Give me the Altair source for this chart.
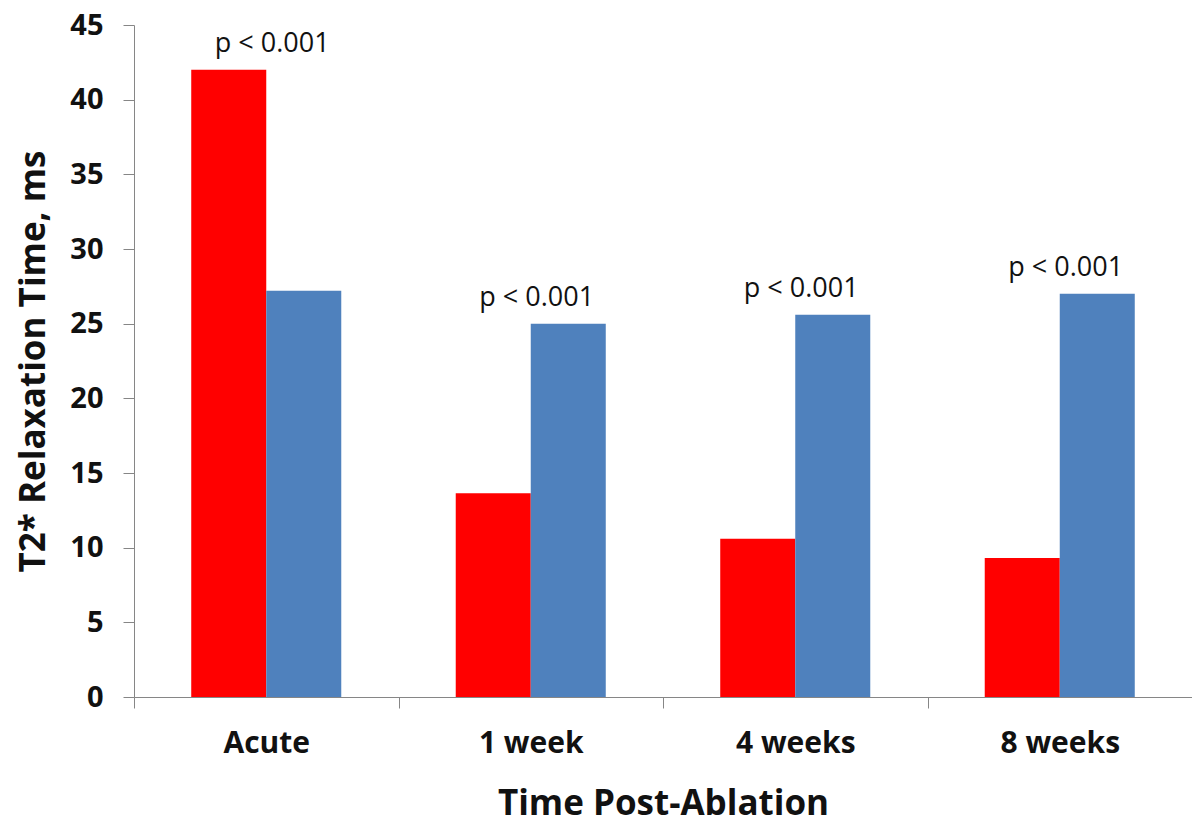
import altair as alt
import pandas as pd

categories = ["Acute", "1 week", "4 weeks", "8 weeks"]
red_values = [42.0, 13.65, 10.6, 9.3]
blue_values = [27.2, 25.0, 25.6, 27.0]
series_names = ["Series A", "Series B"]
p_labels = ["p < 0.001", "p < 0.001", "p < 0.001", "p < 0.001"]
y_ticks = [0, 5, 10, 15, 20, 25, 30, 35, 40, 45]

rows = []
for c, r, b in zip(categories, red_values, blue_values):
    rows.append({"time": c, "series": series_names[0], "value": r})
    rows.append({"time": c, "series": series_names[1], "value": b})
bars_df = pd.DataFrame(rows)

ann_df = pd.DataFrame({
    "time": categories,
    "top": [max(r, b) for r, b in zip(red_values, blue_values)],
    "label": p_labels,
})

FONT = "Open Sans"
AXIS_GRAY = "#868686"
TEXT = "#111111"

x_enc = alt.X(
    "time:N",
    sort=categories,
    scale=alt.Scale(paddingInner=0, paddingOuter=0),
    axis=alt.Axis(
        title="Time Post-Ablation",
        labelAngle=0,
        tickBand="extent",
        domainColor=AXIS_GRAY,
        tickColor=AXIS_GRAY,
        tickSize=11,
        labelPadding=20,
        labelFontSize=30,
        labelFontWeight="bold",
        labelColor=TEXT,
        labelFont=FONT,
        titleFont=FONT,
        titleFontSize=35,
        titleFontWeight="bold",
        titleColor=TEXT,
        titlePadding=28,
    ),
)

y_scale = alt.Scale(domain=[0, 45], nice=False, zero=True)

bars = alt.Chart(bars_df).mark_bar().encode(
    x=x_enc,
    xOffset=alt.XOffset(
        "series:N", sort=series_names,
        scale=alt.Scale(paddingInner=0, paddingOuter=0.763),
    ),
    y=alt.Y(
        "value:Q",
        scale=y_scale,
        axis=alt.Axis(
            title="T2* Relaxation Time, ms",
            values=y_ticks,
            grid=False,
            domainColor=AXIS_GRAY,
            tickColor=AXIS_GRAY,
            tickSize=11,
            labelPadding=20,
            labelFontSize=29,
            labelFontWeight="bold",
            labelColor=TEXT,
            labelFont=FONT,
            titleFont=FONT,
            titleFontSize=35,
            titleFontWeight="bold",
            titleColor=TEXT,
            titlePadding=18,
        ),
    ),
    color=alt.Color(
        "series:N",
        sort=series_names,
        scale=alt.Scale(domain=series_names, range=["#FF0000", "#4F81BD"]),
        legend=None,
    ),
)

ann = alt.Chart(ann_df).mark_text(
    font=FONT, fontSize=27, color=TEXT, baseline="middle", align="center", dy=-26, dx=6
).encode(
    x=alt.X("time:N", sort=categories),
    y=alt.Y("top:Q", scale=y_scale),
    text="label:N",
)

chart = (
    alt.layer(bars, ann)
    .properties(
        width=1058,
        height=672,
        autosize=alt.AutoSizeParams(type="none"),
        padding={"left": 126, "top": 17, "right": 0, "bottom": 126},
        background="white",
    )
    .configure_view(stroke=None)
)

chart.save("out.html", embed_options={"renderer": "svg", "actions": False})
